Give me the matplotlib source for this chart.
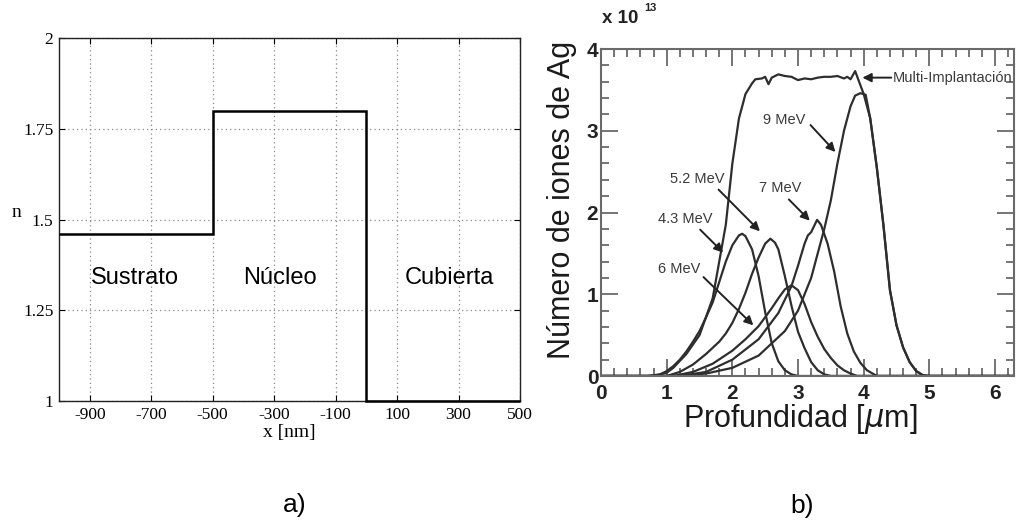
import matplotlib
matplotlib.use("Agg")
import matplotlib.pyplot as plt
from matplotlib.ticker import MultipleLocator

plt.rcParams['font.family'] = ['Liberation Sans', 'DejaVu Sans']
plt.rcParams['axes.unicode_minus'] = False

# a) perfil del indice de refraccion
bordes_x = [-1000, -500, 0, 500]
indice_n = [1.46, 1.80, 1.00]
capas = ['Sustrato', 'Núcleo', 'Cubierta']
ticks_x_a = [-900, -700, -500, -300, -100, 100, 300, 500]
ticks_n = [1, 1.25, 1.5, 1.75, 2]
etiquetas_n = ['1', '1.25', '1.5', '1.75', '2']

# b) perfiles de implantacion de Ag (x 10^13 iones)
prof_multi = [0.0, 0.8, 1.0, 1.1, 1.3, 1.5, 1.7, 1.8, 1.9, 2.0, 2.1, 2.2, 2.3, 2.35, 2.45,
              2.5, 2.55, 2.6, 2.7, 2.8, 2.9, 3.0, 3.1, 3.2, 3.3, 3.4, 3.5, 3.6, 3.7, 3.75,
              3.8, 3.87, 3.93, 4.0, 4.1, 4.2, 4.3, 4.4, 4.5, 4.6, 4.7, 4.8, 4.9, 5.0, 6.3]
iones_multi = [0.0, 0.0, 0.04, 0.1, 0.27, 0.5, 0.95, 1.4, 1.85, 2.6, 3.15, 3.45, 3.58, 3.63, 3.64,
               3.66, 3.57, 3.65, 3.69, 3.67, 3.66, 3.62, 3.64, 3.63, 3.65, 3.66, 3.66, 3.67, 3.64, 3.66,
               3.63, 3.73, 3.6, 3.45, 3.15, 2.55, 1.85, 1.05, 0.62, 0.35, 0.17, 0.06, 0.01, 0.0, 0.0]

prof_43 = [0.0, 0.7, 0.9, 1.0, 1.1, 1.2, 1.3, 1.4, 1.5, 1.6, 1.7, 1.8, 1.9, 2.0, 2.1, 2.15,
           2.2, 2.3, 2.4, 2.5, 2.6, 2.7, 2.8, 2.9, 3.0, 6.3]
iones_43 = [0.0, 0.0, 0.02, 0.06, 0.12, 0.2, 0.3, 0.42, 0.55, 0.72, 0.9, 1.15, 1.4, 1.6, 1.72, 1.74,
            1.71, 1.55, 1.22, 0.78, 0.4, 0.18, 0.07, 0.02, 0.0, 0.0]

prof_52 = [0.0, 1.0, 1.2, 1.4, 1.6, 1.8, 1.9, 2.0, 2.1, 2.2, 2.3, 2.4, 2.5, 2.58, 2.65, 2.7,
           2.8, 2.9, 3.0, 3.1, 3.2, 3.3, 3.4, 3.5, 6.3]
iones_52 = [0.0, 0.0, 0.05, 0.14, 0.27, 0.42, 0.52, 0.65, 0.82, 1.02, 1.25, 1.45, 1.62, 1.68, 1.63, 1.55,
            1.22, 0.86, 0.54, 0.34, 0.17, 0.07, 0.02, 0.0, 0.0]

prof_6 = [0.0, 1.1, 1.4, 1.7, 2.0, 2.2, 2.4, 2.6, 2.7, 2.8, 2.9, 3.0, 3.1, 3.2, 3.3, 3.4,
          3.5, 3.6, 3.7, 3.8, 3.9, 6.3]
iones_6 = [0.0, 0.0, 0.05, 0.15, 0.31, 0.45, 0.61, 0.83, 0.95, 1.06, 1.11, 1.05, 0.88, 0.66, 0.48, 0.33,
           0.22, 0.13, 0.07, 0.03, 0.0, 0.0]

prof_7 = [0.0, 1.2, 1.6, 2.0, 2.4, 2.7, 2.9, 3.0, 3.1, 3.15, 3.2, 3.29, 3.35, 3.45, 3.55, 3.65,
          3.75, 3.85, 3.95, 4.05, 4.2, 6.3]
iones_7 = [0.0, 0.0, 0.05, 0.2, 0.45, 0.77, 1.1, 1.35, 1.62, 1.72, 1.76, 1.91, 1.85, 1.62, 1.28, 0.85,
           0.52, 0.3, 0.16, 0.07, 0.0, 0.0]

prof_9 = [0.0, 1.2, 1.6, 2.0, 2.4, 2.8, 3.0, 3.2, 3.3, 3.4, 3.5, 3.6, 3.7, 3.8, 3.87, 3.95,
          4.03, 4.1, 4.2, 4.3, 4.4, 4.5, 4.6, 4.7, 4.8, 4.9, 5.0, 6.3]
iones_9 = [0.0, 0.0, 0.03, 0.1, 0.25, 0.55, 0.8, 1.2, 1.5, 1.8, 2.15, 2.6, 3.0, 3.3, 3.43, 3.46,
           3.44, 3.15, 2.55, 1.85, 1.05, 0.62, 0.35, 0.17, 0.06, 0.01, 0.0, 0.0]

ticks_prof = [0, 1, 2, 3, 4, 5, 6]
ticks_iones = [0, 1, 2, 3, 4]

fig = plt.figure(figsize=(10.17, 5.21), dpi=100)

# ---- panel a) ----
ax1 = fig.add_axes([0.058, 0.2303, 0.4533, 0.6967])
ax1.stairs(indice_n, bordes_x, baseline=None, color='black', linewidth=1.8, clip_on=False, zorder=3)
ax1.set_xlim(-1000, 500)
ax1.set_ylim(1, 2)
ax1.set_xticks(ticks_x_a)
ax1.set_xticklabels([str(t) for t in ticks_x_a], family='Liberation Serif', fontsize=12.5)
ax1.set_yticks(ticks_n)
ax1.set_yticklabels(etiquetas_n, family='Liberation Serif', fontsize=12.5)
ax1.tick_params(direction='in', top=True, right=True, length=4, width=0.8, pad=4)
ax1.grid(True, linestyle=(0, (1, 2.5)), color='#888888', linewidth=0.9)
for s in ax1.spines.values():
    s.set_color('#222222')
    s.set_linewidth(1.0)
ax1.set_xlabel('x [nm]', family='Liberation Serif', fontsize=14, labelpad=1)
ax1.text(-0.093, 0.52, 'n', transform=ax1.transAxes, family='Liberation Serif',
         fontsize=14, ha='center', va='center')
for nombre, xc in zip(capas, [-753, -280, 272]):
    ax1.text(xc, 1.34, nombre, fontsize=17, ha='center', va='center')

# ---- panel b) ----
gris = '#6a6a6a'
linea = '#2e2e2e'
ax2 = fig.add_axes([0.591, 0.2783, 0.4061, 0.6276])
for px, io in [(prof_multi, iones_multi), (prof_43, iones_43), (prof_52, iones_52),
               (prof_6, iones_6), (prof_7, iones_7), (prof_9, iones_9)]:
    ax2.plot(px, io, color=linea, linewidth=1.6)
ax2.set_xlim(0, 6.29)
ax2.set_ylim(0, 4)
ax2.set_xticks(ticks_prof)
ax2.set_yticks(ticks_iones)
ax2.xaxis.set_minor_locator(MultipleLocator(0.2))
ax2.yaxis.set_minor_locator(MultipleLocator(0.2))
ax2.tick_params(which='both', direction='in', top=True, right=True, color=gris, width=1.3)
ax2.tick_params(which='major', length=12)
ax2.tick_params(which='minor', length=6)
ax2.tick_params(axis='x', labelsize=15, pad=6, labelcolor='#222222')
ax2.tick_params(axis='y', labelsize=15, pad=2, labelcolor='#222222')
for lab in ax2.get_xticklabels() + ax2.get_yticklabels():
    lab.set_fontweight('bold')
for s in ax2.spines.values():
    s.set_color(gris)
    s.set_linewidth(1.5)

ax2.text(-0.095, 0.538, 'Número de iones de Ag', transform=ax2.transAxes, rotation=90,
         fontsize=22, ha='center', va='center', color='#1a1a1a')
ax2.text(0.482, -0.13, r'Profundidad [$\mu$m]', transform=ax2.transAxes,
         fontsize=22, ha='center', va='center', color='#1a1a1a')
fig.text(602 / 1017, 1 - 18.5 / 521, 'x 10', fontsize=13.5, fontweight='bold',
         ha='left', va='center', color='#222222')
fig.text(644 / 1017, 1 - 8 / 521, '13', fontsize=8, fontweight='bold',
         ha='left', va='center', color='#222222')

# anotaciones: (texto, pos texto, cola flecha, punta flecha)
notas = [('Multi-Implantación', (4.44, 3.65), (4.42, 3.65), (3.98, 3.65)),
         ('9 MeV', (2.47, 3.13), (3.19, 3.07), (3.57, 2.74)),
         ('7 MeV', (2.40, 2.30), (2.86, 2.16), (3.18, 1.90)),
         ('5.2 MeV', (1.05, 2.41), (1.79, 2.28), (2.42, 1.77)),
         ('4.3 MeV', (0.87, 1.92), (1.51, 1.79), (1.86, 1.51)),
         ('6 MeV', (0.87, 1.31), (1.56, 1.21), (2.32, 0.62))]
for texto, pos, cola, punta in notas:
    ax2.text(pos[0], pos[1], texto, fontsize=10.5,
             ha='left', va='center', color='#3a3a3a', clip_on=False)
    ax2.annotate('', xy=punta, xytext=cola,
                 arrowprops=dict(arrowstyle='-|>', color='#222222', lw=1.4,
                                 mutation_scale=13, shrinkA=0, shrinkB=0))

fig.text(295 / 1017, 1 - 505 / 521, 'a)', fontsize=19, ha='center', va='center')
fig.text(802 / 1017, 1 - 506 / 521, 'b)', fontsize=19, ha='center', va='center')

fig.savefig('out.png', dpi=100)
